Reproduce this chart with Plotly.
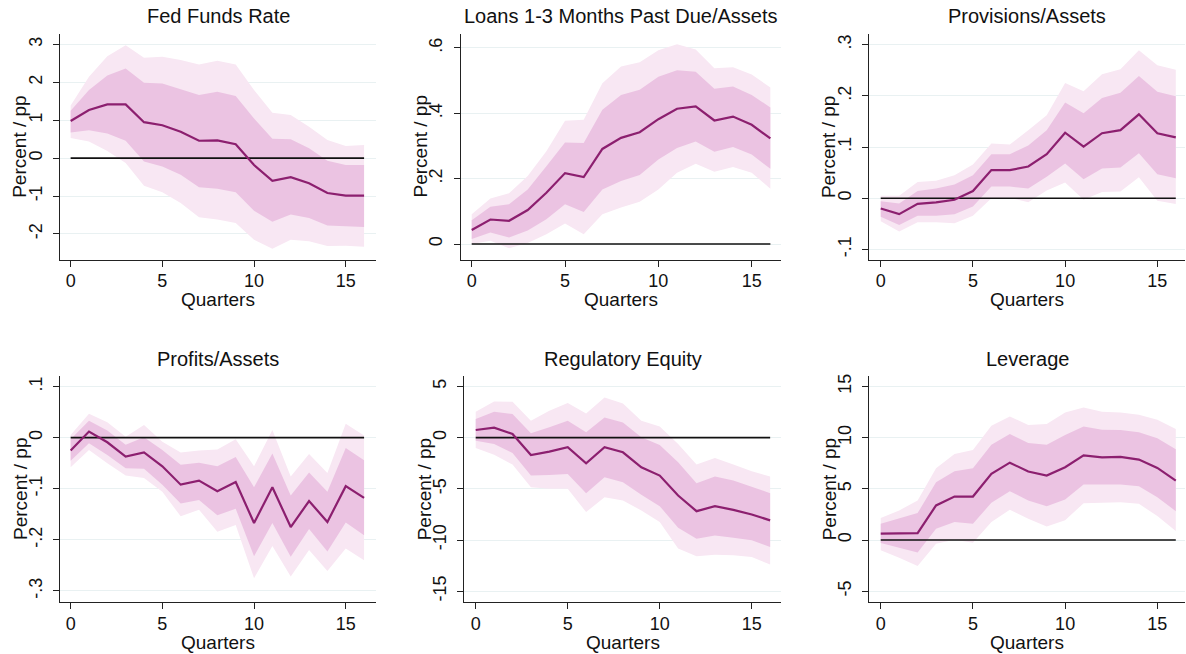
import plotly.graph_objects as go

W, H = 1186, 654

quarters = list(range(17))

# Fed Funds Rate
fed_mid = [0.98, 1.27, 1.42, 1.42, 0.95, 0.87, 0.70, 0.46, 0.47, 0.37, -0.18, -0.60, -0.50, -0.66, -0.92, -0.99, -0.99]
fed_hi68 = [1.25, 1.80, 2.18, 2.37, 1.99, 1.97, 1.82, 1.67, 1.75, 1.64, 1.05, 0.51, 0.50, 0.26, -0.07, -0.18, -0.18]
fed_lo68 = [0.68, 0.74, 0.65, 0.46, -0.09, -0.22, -0.44, -0.77, -0.81, -0.90, -1.39, -1.68, -1.49, -1.58, -1.78, -1.80, -1.82]
fed_hi90 = [1.39, 2.15, 2.69, 2.98, 2.65, 2.68, 2.59, 2.47, 2.57, 2.47, 1.80, 1.20, 1.14, 0.83, 0.48, 0.32, 0.35]
fed_lo90 = [0.53, 0.44, 0.19, -0.13, -0.73, -0.90, -1.18, -1.56, -1.62, -1.71, -2.15, -2.39, -2.15, -2.19, -2.32, -2.31, -2.34]

# Loans 1-3 months past due / assets
pd_mid = [0.043, 0.075, 0.071, 0.104, 0.157, 0.217, 0.205, 0.291, 0.325, 0.342, 0.382, 0.414, 0.421, 0.378, 0.390, 0.365, 0.323]
pd_hi68 = [0.073, 0.114, 0.122, 0.167, 0.238, 0.311, 0.309, 0.411, 0.456, 0.472, 0.512, 0.532, 0.527, 0.475, 0.482, 0.456, 0.418]
pd_lo68 = [0.015, 0.035, 0.020, 0.041, 0.076, 0.122, 0.098, 0.167, 0.193, 0.211, 0.259, 0.294, 0.314, 0.282, 0.297, 0.274, 0.230]
pd_hi90 = [0.091, 0.139, 0.155, 0.208, 0.284, 0.377, 0.380, 0.492, 0.543, 0.556, 0.593, 0.611, 0.595, 0.538, 0.541, 0.519, 0.479]
pd_lo90 = [0.000, 0.010, -0.013, 0.003, 0.030, 0.063, 0.030, 0.091, 0.112, 0.129, 0.167, 0.218, 0.246, 0.221, 0.236, 0.218, 0.169]

# Provisions / assets
prov_mid = [-0.020, -0.031, -0.011, -0.008, -0.003, 0.014, 0.055, 0.055, 0.062, 0.086, 0.128, 0.101, 0.127, 0.133, 0.164, 0.127, 0.119]
prov_hi68 = [-0.006, -0.010, 0.014, 0.019, 0.027, 0.045, 0.086, 0.086, 0.103, 0.133, 0.187, 0.166, 0.196, 0.206, 0.239, 0.208, 0.199]
prov_lo68 = [-0.036, -0.052, -0.034, -0.034, -0.031, -0.016, 0.023, 0.023, 0.019, 0.042, 0.068, 0.037, 0.058, 0.060, 0.088, 0.047, 0.039]
prov_hi90 = [0.005, 0.005, 0.032, 0.034, 0.045, 0.066, 0.107, 0.105, 0.133, 0.162, 0.225, 0.209, 0.242, 0.252, 0.289, 0.260, 0.251]
prov_lo90 = [-0.045, -0.065, -0.047, -0.047, -0.049, -0.034, 0.000, 0.001, -0.008, 0.015, 0.031, -0.003, 0.012, 0.013, 0.041, -0.005, -0.011]

# Profits / assets
prof_mid = [-0.025, 0.012, -0.009, -0.037, -0.029, -0.056, -0.092, -0.084, -0.105, -0.087, -0.167, -0.097, -0.175, -0.124, -0.165, -0.095, -0.118]
prof_hi68 = [-0.003, 0.033, 0.014, -0.014, 0.001, -0.024, -0.053, -0.049, -0.056, -0.038, -0.097, -0.031, -0.113, -0.068, -0.106, -0.020, -0.044]
prof_lo68 = [-0.045, -0.011, -0.034, -0.060, -0.061, -0.092, -0.129, -0.122, -0.152, -0.139, -0.232, -0.167, -0.233, -0.179, -0.223, -0.166, -0.191]
prof_hi90 = [0.005, 0.047, 0.030, 0.002, 0.025, -0.008, -0.029, -0.025, -0.023, -0.003, -0.056, 0.015, -0.076, -0.032, -0.069, 0.027, 0.004]
prof_lo90 = [-0.058, -0.024, -0.050, -0.074, -0.079, -0.106, -0.154, -0.141, -0.184, -0.171, -0.275, -0.212, -0.272, -0.220, -0.261, -0.217, -0.240]

# Regulatory equity
eq_mid = [0.75, 0.97, 0.36, -1.69, -1.36, -0.94, -2.50, -0.94, -1.43, -2.89, -3.70, -5.65, -7.18, -6.69, -7.05, -7.50, -8.08]
eq_hi68 = [1.82, 2.53, 2.31, 0.42, 1.01, 1.66, 0.52, 1.98, 1.49, 0.03, -0.71, -2.40, -4.45, -3.80, -4.19, -4.84, -5.42]
eq_lo68 = [-0.29, -0.62, -1.49, -3.70, -3.64, -3.54, -5.42, -3.86, -4.35, -5.58, -6.69, -8.80, -9.87, -9.55, -9.77, -10.03, -10.68]
eq_hi90 = [2.53, 3.54, 3.51, 1.66, 2.63, 3.38, 2.37, 3.93, 3.34, 1.66, 1.10, -0.62, -2.63, -1.98, -2.63, -3.28, -3.80]
eq_lo90 = [-1.01, -1.66, -2.63, -4.84, -5.00, -5.00, -7.27, -5.81, -6.14, -7.11, -8.25, -10.84, -11.59, -11.43, -11.49, -11.66, -12.40]

# Leverage
lev_mid = [0.62, 0.68, 0.68, 3.38, 4.25, 4.25, 6.46, 7.56, 6.69, 6.30, 7.11, 8.28, 8.08, 8.12, 7.86, 7.05, 5.81]
lev_hi68 = [1.59, 2.08, 2.63, 5.65, 6.72, 7.01, 9.32, 10.36, 9.48, 9.32, 10.26, 11.10, 10.78, 10.75, 10.52, 9.94, 8.86]
lev_lo68 = [-0.29, -0.75, -1.23, 1.10, 1.75, 1.59, 3.64, 4.77, 3.86, 3.31, 3.96, 5.42, 5.42, 5.42, 5.26, 4.19, 2.82]
lev_hi90 = [2.14, 2.89, 3.86, 7.01, 8.41, 8.80, 11.17, 12.08, 11.23, 11.33, 12.47, 12.95, 12.53, 12.47, 12.24, 11.75, 10.84]
lev_lo90 = [-1.01, -1.72, -2.53, -0.36, 0.03, -0.26, 1.75, 2.95, 2.08, 1.33, 1.92, 3.60, 3.64, 3.70, 3.54, 2.34, 0.88]

titles = ["Fed Funds Rate", "Loans 1-3 Months Past Due/Assets", "Provisions/Assets",
          "Profits/Assets", "Regulatory Equity", "Leverage"]

ytick_vals = [
    [-2, -1, 0, 1, 2, 3],
    [0, 0.2, 0.4, 0.6],
    [-0.1, 0, 0.1, 0.2, 0.3],
    [-0.3, -0.2, -0.1, 0, 0.1],
    [-15, -10, -5, 0, 5],
    [-5, 0, 5, 10, 15],
]
ytick_text = [
    ["-2", "-1", "0", "1", "2", "3"],
    ["0", ".2", ".4", ".6"],
    ["-.1", "0", ".1", ".2", ".3"],
    ["-.3", "-.2", "-.1", "0", ".1"],
    ["-15", "-10", "-5", "0", "5"],
    ["-5", "0", "5", "10", "15"],
]
xtick_vals = [0, 5, 10, 15]

series = [
    (fed_mid, fed_lo68, fed_hi68, fed_lo90, fed_hi90),
    (pd_mid, pd_lo68, pd_hi68, pd_lo90, pd_hi90),
    (prov_mid, prov_lo68, prov_hi68, prov_lo90, prov_hi90),
    (prof_mid, prof_lo68, prof_hi68, prof_lo90, prof_hi90),
    (eq_mid, eq_lo68, eq_hi68, eq_lo90, eq_hi90),
    (lev_mid, lev_lo68, lev_hi68, lev_lo90, lev_hi90),
]

# plot areas in pixels: (left, right, top, bottom)
boxes = [
    (60, 376, 32, 258.5),
    (460.7, 781, 32, 258.5),
    (869.3, 1185, 32, 258.5),
    (60, 376, 375, 602),
    (464.3, 781, 375, 602),
    (869.3, 1185, 375, 602),
]
x_ranges = [[-0.58, 16.65], [-0.59, 16.57], [-0.62, 16.5],
            [-0.58, 16.65], [-0.62, 16.59], [-0.62, 16.5]]
y_ranges = [[-2.68, 3.28], [-0.048, 0.643], [-0.12, 0.321],
            [-0.322, 0.121], [-16.07, 6.04], [-6.07, 16.04]]

LINE = "#8c1f6f"
BAND68 = "#ebc3e2"
BAND90 = "#f8e7f3"
GRID = "#e9f1f2"
FONT = "Liberation Sans, Arial, sans-serif"

fig = go.Figure()
annotations = []

for i, (mid, lo68, hi68, lo90, hi90) in enumerate(series):
    n = i + 1
    xa = "x" if n == 1 else f"x{n}"
    ya = "y" if n == 1 else f"y{n}"
    poly_x = quarters + quarters[::-1]
    fig.add_trace(go.Scatter(x=poly_x, y=hi90 + lo90[::-1], fill="toself",
                             fillcolor=BAND90, line=dict(width=0), mode="lines",
                             hoverinfo="skip", showlegend=False, xaxis=xa, yaxis=ya))
    fig.add_trace(go.Scatter(x=poly_x, y=hi68 + lo68[::-1], fill="toself",
                             fillcolor=BAND68, line=dict(width=0), mode="lines",
                             hoverinfo="skip", showlegend=False, xaxis=xa, yaxis=ya))
    fig.add_trace(go.Scatter(x=[quarters[0], quarters[-1]], y=[0, 0], mode="lines",
                             line=dict(color="#111111", width=1.6),
                             hoverinfo="skip", showlegend=False, xaxis=xa, yaxis=ya))
    fig.add_trace(go.Scatter(x=quarters, y=mid, mode="lines",
                             line=dict(color=LINE, width=2.2),
                             showlegend=False, xaxis=xa, yaxis=ya))

    left, right, top, bottom = boxes[i]
    xdom = [left / W, right / W]
    ydom = [1 - bottom / H, 1 - top / H]
    xkey = "xaxis" if n == 1 else f"xaxis{n}"
    ykey = "yaxis" if n == 1 else f"yaxis{n}"
    fig.update_layout(**{
        xkey: dict(domain=xdom, anchor=ya, range=x_ranges[i], tickvals=xtick_vals,
                   ticks="outside", ticklen=6, tickwidth=1.2, tickcolor="#222222",
                   showline=True, linecolor="#222222", linewidth=1.3,
                   showgrid=False, zeroline=False, ticklabelstandoff=-1,
                   tickfont=dict(family=FONT, size=18, color="#111111")),
        ykey: dict(domain=ydom, anchor=xa, range=y_ranges[i], tickvals=ytick_vals[i],
                   ticktext=ytick_text[i], tickangle=-90,
                   ticks="outside", ticklen=6, tickwidth=1.2, tickcolor="#222222",
                   showline=True, linecolor="#222222", linewidth=1.3,
                   showgrid=True, gridcolor=GRID, gridwidth=1.2, zeroline=False,
                   ticklabelstandoff=4,
                   tickfont=dict(family=FONT, size=18, color="#111111")),
    })

    cx = (left + right) / 2 / W
    cy = (top + bottom) / 2
    row_top = 14.5 if i < 3 else 358
    qy = 298 if i < 3 else 642
    annotations.append(dict(text=titles[i], x=cx, y=1 - row_top / H, xref="paper", yref="paper",
                            xanchor="center", yanchor="middle", showarrow=False,
                            font=dict(family=FONT, size=20, color="#111111")))
    annotations.append(dict(text="Quarters", x=cx, y=1 - qy / H, xref="paper", yref="paper",
                            xanchor="center", yanchor="middle", showarrow=False,
                            font=dict(family=FONT, size=19, color="#111111")))
    annotations.append(dict(text="Percent / pp", x=(left - 40) / W, y=1 - cy / H,
                            xref="paper", yref="paper", textangle=-90,
                            xanchor="center", yanchor="middle", showarrow=False,
                            font=dict(family=FONT, size=19, color="#111111")))

fig.update_layout(width=W, height=H, margin=dict(l=0, r=0, t=0, b=0),
                  paper_bgcolor="white", plot_bgcolor="white",
                  annotations=annotations, showlegend=False)

fig.write_html("out.html")
